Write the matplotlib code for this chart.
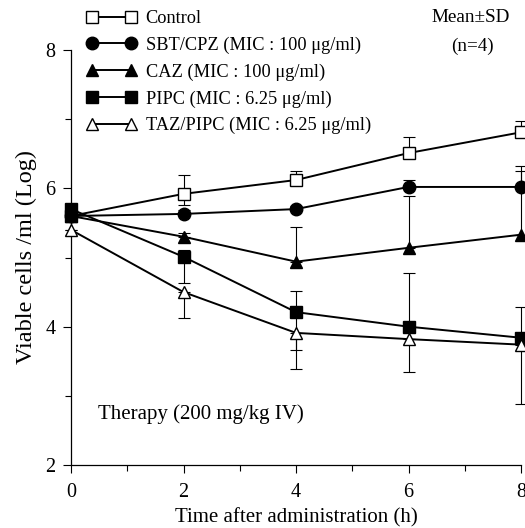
import numpy as np
import matplotlib
matplotlib.use("Agg")
import matplotlib.pyplot as plt
from matplotlib.ticker import MultipleLocator

plt.rcParams['font.family'] = ['Liberation Serif', 'DejaVu Serif']
plt.rcParams['font.size'] = 13

# 데이터
hours = [0, 2, 4, 6, 8]
control = [5.6, 5.92, 6.12, 6.51, 6.81]
sbt_cpz = [5.6, 5.63, 5.70, 6.02, 6.02]
caz = [5.6, 5.30, 4.94, 5.14, 5.33]
pipc = [5.7, 5.01, 4.21, 4.00, 3.84]
taz_pipc = [5.4, 4.50, 3.91, 3.82, 3.74]

# 오차 (위쪽 / 아래쪽)
control_up = [0, 0.27, 0.13, 0.23, 0.16]
control_dn = [0, 0.16, 0.05, 0.07, 0.05]
sbt_up = [0, 0.05, 0.05, 0.10, 0.30]
sbt_dn = [0, 0, 0, 0, 0]
caz_up = [0, 0.05, 0.50, 0.75, 0.92]
caz_dn = [0, 0, 0, 0, 0]
pipc_up = [0, 0.10, 0.30, 0.78, 0.45]
pipc_dn = [0, 0.38, 0.55, 0, 0]
taz_up = [0, 0, 0, 0, 0]
taz_dn = [0, 0.37, 0.52, 0.47, 0.86]

labels = ['Control', 'SBT/CPZ (MIC : 100 μg/ml)', 'CAZ (MIC : 100 μg/ml)',
          'PIPC (MIC : 6.25 μg/ml)', 'TAZ/PIPC (MIC : 6.25 μg/ml)']

fig = plt.figure(figsize=(5.25, 5.28), dpi=100)
ax = fig.add_axes([71 / 525, 1 - 465 / 528, 450 / 525, 415 / 528])

series = [
    (control, control_dn, control_up, 's', 'white', 8),
    (sbt_cpz, sbt_dn, sbt_up, 'o', 'black', 9),
    (caz, caz_dn, caz_up, '^', 'black', 9),
    (pipc, pipc_dn, pipc_up, 's', 'black', 8.5),
    (taz_pipc, taz_dn, taz_up, '^', 'white', 9),
]

handles = []
for (vals, dn, up, mk, fc, ms), lab in zip(series, labels):
    # 오차 막대 먼저
    ax.errorbar(hours, vals, yerr=[dn, up], fmt='none', ecolor='black',
                elinewidth=0.8, capsize=4, capthick=0.8, clip_on=False, zorder=2)
    h, = ax.plot(hours, vals, color='black', lw=1.4, marker=mk, ms=ms,
                 mfc=fc, mec='black', mew=1.0, clip_on=False, zorder=3, label=lab)
    handles.append(h)

ax.set_xlim(0, 8)
ax.set_ylim(2, 8)
ax.xaxis.set_major_locator(MultipleLocator(2))
ax.xaxis.set_minor_locator(MultipleLocator(1))
ax.yaxis.set_major_locator(MultipleLocator(2))
ax.yaxis.set_minor_locator(MultipleLocator(1))
ax.tick_params(which='major', direction='out', length=6, width=0.8, labelsize=14.5)
ax.tick_params(which='minor', direction='out', length=4, width=0.8)
ax.tick_params(axis='x', pad=7)
ax.tick_params(axis='y', pad=5)
ax.spines['top'].set_visible(False)
ax.spines['right'].set_visible(False)
ax.spines['left'].set_linewidth(0.9)
ax.spines['bottom'].set_linewidth(0.9)

ax.set_xlabel('Time after administration (h)', fontsize=15, labelpad=4)
ax.set_ylabel('Viable cells /ml (Log)', fontsize=17.5, labelpad=6)

ax.text(0.48, 2.74, 'Therapy (200 mg/kg IV)', fontsize=15, va='center', ha='left')

fig.text(471 / 525, 1 - 18 / 528, 'Mean±SD', fontsize=13.8, ha='center', va='center')
fig.text(472 / 525, 1 - 46 / 528, '(n=4)', fontsize=13.8, ha='center', va='center')

leg = fig.legend(handles=handles, loc='upper left', bbox_to_anchor=(86 / 525, 1 - 10 / 528),
                 frameon=False, fontsize=13.2, numpoints=2, handlelength=2.75,
                 handletextpad=0.5, labelspacing=0.52, borderpad=0, borderaxespad=0)

fig.savefig('out.png', dpi=100)
